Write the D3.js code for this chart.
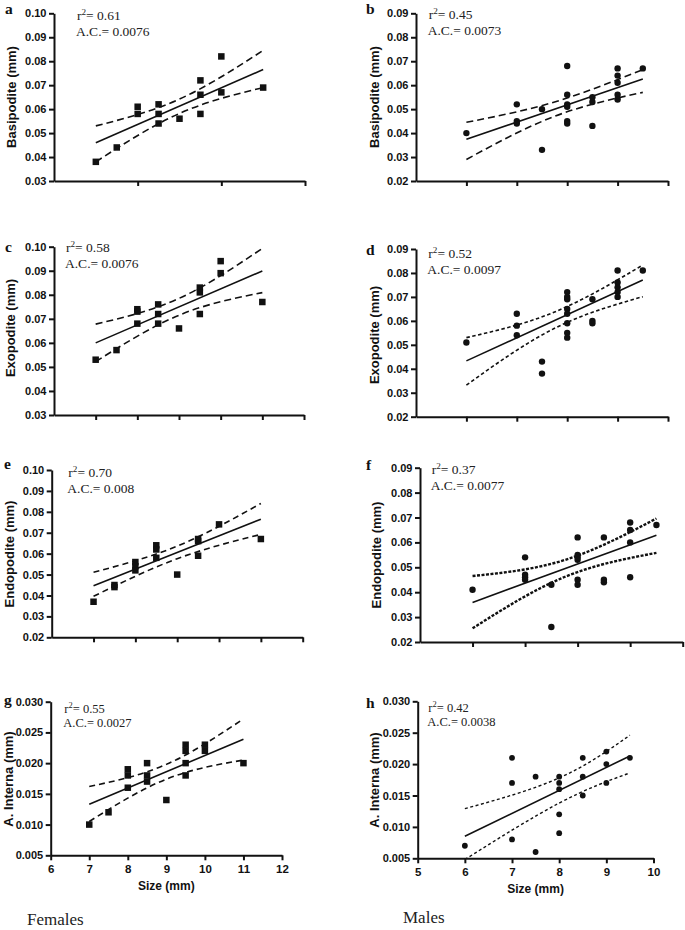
<!DOCTYPE html>
<html><head><meta charset="utf-8">
<script src="https://cdn.jsdelivr.net/npm/d3@7"></script>
<style>body{margin:0;background:#fff}svg{display:block}</style>
</head><body>
<svg id="chart" width="685" height="930"></svg>
<script>
// ---------- data (x = size mm, y = measurement mm) ----------
const basipoditeF = [[7,0.038],[7.5,0.044],[8,0.058],[8,0.061],[8.5,0.062],[8.5,0.058],[8.5,0.054],[9,0.056],[9.5,0.072],[9.5,0.066],[9.5,0.058],[10,0.082],[10,0.067],[11,0.069]];
const basipoditeM = [[6,0.040],[7,0.052],[7,0.045],[7,0.044],[7.5,0.050],[7.5,0.033],[8,0.068],[8,0.056],[8,0.052],[8,0.051],[8,0.045],[8,0.044],[8.5,0.055],[8.5,0.053],[8.5,0.043],[9,0.067],[9,0.064],[9,0.061],[9,0.056],[9,0.054],[9.5,0.067]];
const exopoditeF = [[7,0.053],[7.5,0.057],[8,0.074],[8,0.073],[8,0.068],[8.5,0.076],[8.5,0.072],[8.5,0.068],[9,0.066],[9.5,0.083],[9.5,0.081],[9.5,0.072],[10,0.094],[10,0.089],[11,0.077]];
const exopoditeM = [[6,0.051],[7,0.063],[7,0.058],[7,0.054],[7.5,0.043],[7.5,0.038],[8,0.072],[8,0.070],[8,0.069],[8,0.065],[8,0.063],[8,0.059],[8,0.055],[8,0.053],[8.5,0.069],[8.5,0.060],[8.5,0.059],[9,0.081],[9,0.076],[9,0.074],[9,0.072],[9,0.070],[9.5,0.081]];
const endopoditeF = [[7,0.037],[7.5,0.045],[7.5,0.044],[8,0.056],[8,0.054],[8,0.052],[8.5,0.064],[8.5,0.062],[8.5,0.058],[9,0.050],[9.5,0.067],[9.5,0.066],[9.5,0.059],[10,0.074],[11,0.067]];
const endopoditeM = [[6,0.041],[7,0.054],[7,0.047],[7,0.046],[7,0.045],[7.5,0.043],[7.5,0.026],[8,0.062],[8,0.055],[8,0.054],[8,0.053],[8,0.045],[8,0.043],[8.5,0.062],[8.5,0.045],[8.5,0.044],[9,0.068],[9,0.065],[9,0.060],[9,0.046],[9.5,0.067]];
const antennaF = [[7,0.010],[7.5,0.012],[8,0.019],[8,0.018],[8,0.016],[8.5,0.020],[8.5,0.018],[8.5,0.017],[9,0.014],[9.5,0.023],[9.5,0.022],[9.5,0.020],[9.5,0.018],[10,0.023],[10,0.022],[11,0.020]];
const antennaM = [[6,0.007],[7,0.021],[7,0.017],[7,0.008],[7.5,0.018],[7.5,0.006],[8,0.018],[8,0.017],[8,0.016],[8,0.012],[8,0.009],[8.5,0.021],[8.5,0.018],[8.5,0.015],[9,0.022],[9,0.020],[9,0.017],[9.5,0.021]];

// regression lines [x, y] at ends
const fitA = [[7,0.046],[11,0.0765]];
const fitB = [[6,0.0374],[9.5,0.0626]];
const fitC = [[7,0.060],[11,0.0899]];
const fitD = [[6,0.0433],[9.5,0.0771]];
const fitE = [[7,0.0447],[11,0.0765]];
const fitF = [[6,0.0359],[9.5,0.0629]];
const fitG = [[7,0.0133],[11,0.0239]];
const fitH = [[6,0.0085],[9.5,0.0213]];

// 95% confidence bands [x, lower, upper]
const bandA = [[7,0.038,0.053],[9,0.0582,0.0642],[11,0.069,0.0845]];
const bandB = [[6,0.029,0.0445],[7.75,0.047,0.053],[9.5,0.057,0.0665]];
const bandC = [[7,0.0522,0.0678],[9,0.0715,0.0785],[11,0.0809,0.0993]];
const bandD = [[6,0.0332,0.053],[7.75,0.0569,0.0637],[9.5,0.0701,0.0833]];
const bandE = [[7,0.0396,0.0511],[9,0.0576,0.0636],[11,0.0692,0.084]];
const bandF = [[6,0.0255,0.0465],[7.75,0.0461,0.0529],[9.5,0.0558,0.0696]];
const bandG = [[7,0.0105,0.0162],[9,0.0174,0.0198],[11,0.0205,0.0272]];
const bandH = [[6,0.0048,0.0129],[8,0.0138,0.0178],[9.5,0.0186,0.0246]];

// ticks
const yTicks0310 = [0.03,0.04,0.05,0.06,0.07,0.08,0.09,0.10];
const yTicks0209 = [0.02,0.03,0.04,0.05,0.06,0.07,0.08,0.09];
const yTicks0210 = [0.02,0.03,0.04,0.05,0.06,0.07,0.08,0.09,0.10];
const yTicksSmall = [0.005,0.010,0.015,0.020,0.025,0.030];
const xTicksFemaleA = [8,10,12];
const xTicksFemale = [7,8,9,10,11,12];
const xTicksFemaleLab = [6,7,8,9,10,11,12];
const xTicksMale = [6,7,8,9,10];
const xTicksMaleLab = [5,6,7,8,9,10];

const stats = {a:['0.61','0.0076'],b:['0.45','0.0073'],c:['0.58','0.0076'],d:['0.52','0.0097'],
               e:['0.70','0.008'],f:['0.37','0.0077'],g:['0.55','0.0027'],h:['0.42','0.0038']};

// ---------- layout ----------
const panels = [
 {id:'a',pts:basipoditeF,fit:fitA,band:bandA,title:'Basipodite (mm)',x0:54,x1:305,yT:13.3,yB:181,xd:[6,12],yd:[0.03,0.10],xt:xTicksFemaleA,yt:yTicks0310,fmt:'.2f',sq:true,dash:'7,4',dw:1.6,tx:77,ty:19.5,lx:5,ly:13.5,ttx:15.5,tty:97},
 {id:'b',pts:basipoditeM,fit:fitB,band:bandB,title:'Basipodite (mm)',x0:416,x1:668,yT:13.3,yB:181,xd:[5,10],yd:[0.02,0.09],xt:xTicksMale,yt:yTicks0209,fmt:'.2f',sq:false,dash:'7,4',dw:1.6,tx:428.7,ty:18.7,lx:366,ly:13.8,ttx:379,tty:97},
 {id:'c',pts:exopoditeF,fit:fitC,band:bandC,title:'Exopodite (mm)',x0:54,x1:304,yT:246.7,yB:415,xd:[6,12],yd:[0.03,0.10],xt:xTicksFemale,yt:yTicks0310,fmt:'.2f',sq:true,dash:'7,4',dw:1.6,tx:66,ty:252.3,lx:5,ly:252,ttx:14.5,tty:328},
 {id:'d',pts:exopoditeM,fit:fitD,band:bandD,title:'Exopodite (mm)',x0:416,x1:668,yT:249,yB:416.7,xd:[5,10],yd:[0.02,0.09],xt:xTicksMale,yt:yTicks0209,fmt:'.2f',sq:false,dash:'3.5,2.5',dw:1.6,tx:428.3,ty:258.3,lx:366,ly:254.5,ttx:379,tty:335},
 {id:'e',pts:endopoditeF,fit:fitE,band:bandE,title:'Endopodite (mm)',x0:51.7,x1:302.7,yT:470,yB:637.3,xd:[6,12],yd:[0.02,0.10],xt:xTicksFemale,yt:yTicks0210,fmt:'.2f',sq:true,dash:'6,4',dw:1.6,tx:68.3,ty:476.7,lx:4,ly:468.5,ttx:14,tty:554},
 {id:'f',pts:endopoditeM,fit:fitF,band:bandF,title:'Endopodite (mm)',x0:420,x1:682.7,yT:467.7,yB:642,xd:[5,10],yd:[0.02,0.09],xt:xTicksMale,yt:yTicks0209,fmt:'.2f',sq:false,dash:'3,1.5',dw:2.4,tx:431.7,ty:474.3,lx:366,ly:469.5,ttx:380.5,tty:555},
 {id:'g',pts:antennaF,fit:fitG,band:bandG,title:'A. Interna (mm)',x0:50.7,x1:282,yT:701.7,yB:855.3,xd:[6,12],yd:[0.005,0.030],xt:xTicksFemale,yt:yTicksSmall,fmt:'.3f',sq:true,dash:'6,4',dw:1.6,tx:64.3,ty:712.7,lx:4,ly:705,ttx:13,tty:779,xlab:xTicksFemaleLab,small:true},
 {id:'h',pts:antennaM,fit:fitH,band:bandH,title:'A. Interna (mm)',x0:417.7,x1:653.5,yT:701.3,yB:858.3,xd:[5,10],yd:[0.005,0.030],xt:xTicksMale,yt:yTicksSmall,fmt:'.3f',sq:false,r:2.9,dash:'3,2.5',dw:1.4,tx:428.3,ty:711.7,lx:366,ly:707.5,ttx:378.5,tty:780,xlab:xTicksMaleLab,small:true}
];

const svg = d3.select('#chart');
const SANS = 'Liberation Sans, Arial, sans-serif';
const SERIF = 'Liberation Serif, Times New Roman, serif';

panels.forEach(p => {
  const x = d3.scaleLinear().domain(p.xd).range([p.x0, p.x1]);
  const y = d3.scaleLinear().domain(p.yd).range([p.yB, p.yT]);
  const g = svg.append('g');

  // clip
  const cid = 'clip-' + p.id;
  svg.append('clipPath').attr('id', cid).append('rect')
    .attr('x', p.x0).attr('y', p.yT - 10).attr('width', p.x1 - p.x0 + 10).attr('height', p.yB - p.yT + 10);

  // y axis
  const ya = d3.axisLeft(y).tickValues(p.yt).tickFormat(d3.format(p.fmt)).tickSize(5).tickSizeOuter(0).tickPadding(2.5);
  const yg = g.append('g').attr('transform', `translate(${p.x0},0)`).call(ya);
  yg.selectAll('path,line').attr('stroke', '#111').attr('stroke-width', 2);
  yg.selectAll('text').attr('font-family', SANS).attr('font-weight', 'bold').attr('font-size', 11).attr('fill', '#111');

  // x axis
  const xa = d3.axisBottom(x).tickValues(p.xlab || p.xt).tickSize(5).tickSizeOuter(0).tickPadding(4.8)
    .tickFormat(p.xlab ? d3.format('d') : () => '');
  const xg = g.append('g').attr('transform', `translate(0,${p.yB})`).call(xa);
  xg.selectAll('path,line').attr('stroke', '#111').attr('stroke-width', 2);
  xg.selectAll('text').attr('font-family', SANS).attr('font-weight', 'bold').attr('font-size', 11.5).attr('fill', '#111');

  if (p.xlab) {
    g.append('text').attr('x', (p.x0 + p.x1) / 2).attr('y', p.yB + 35)
      .attr('text-anchor', 'middle').attr('font-family', SANS).attr('font-weight', 'bold')
      .attr('font-size', 12).attr('fill', '#111').text('Size (mm)');
  }

  // axis title
  g.append('text').attr('transform', `translate(${p.ttx},${p.tty}) rotate(-90)`)
    .attr('text-anchor', 'middle').attr('font-family', SANS).attr('font-weight', 'bold')
    .attr('font-size', 13).attr('fill', '#111').text(p.title);

  // panel letter
  g.append('text').attr('x', p.lx).attr('y', p.ly).attr('font-family', SERIF).attr('font-weight', 'bold')
    .attr('font-size', 15.5).attr('fill', '#111').text(p.id);

  // stats text
  const fs = p.small ? 12.5 : 13.5;
  const t1 = g.append('text').attr('x', p.tx).attr('y', p.ty).attr('font-family', SERIF)
    .attr('font-size', fs).attr('fill', '#222');
  t1.append('tspan').text('r');
  t1.append('tspan').attr('dy', -5).attr('font-size', fs * 0.68).text('2');
  t1.append('tspan').attr('dy', 5).text('= ' + stats[p.id][0]);
  g.append('text').attr('x', p.tx - 1).attr('y', p.ty + (p.small ? 14.6 : 16))
    .attr('font-family', SERIF).attr('font-size', fs).attr('fill', '#222')
    .text('A.C.= ' + stats[p.id][1]);

  // bands
  const plot = g.append('g').attr('clip-path', `url(#${cid})`);
  const lo = d3.line().x(d => x(d[0])).y(d => y(d[1])).curve(d3.curveNatural);
  const hi = d3.line().x(d => x(d[0])).y(d => y(d[2])).curve(d3.curveNatural);
  [lo, hi].forEach(gen => {
    plot.append('path').datum(p.band).attr('d', gen).attr('fill', 'none')
      .attr('stroke', '#111').attr('stroke-width', p.dw).attr('stroke-dasharray', p.dash);
  });
  // fit
  plot.append('path').datum(p.fit).attr('d', d3.line().x(d => x(d[0])).y(d => y(d[1])))
    .attr('fill', 'none').attr('stroke', '#111').attr('stroke-width', 1.6);

  // points
  if (p.sq) {
    const s = 6.5;
    g.selectAll('rect.pt').data(p.pts).join('rect').attr('class', 'pt')
      .attr('x', d => x(d[0]) - s / 2).attr('y', d => y(d[1]) - s / 2)
      .attr('width', s).attr('height', s).attr('fill', '#111');
  } else {
    g.selectAll('circle.pt').data(p.pts).join('circle').attr('class', 'pt')
      .attr('cx', d => x(d[0])).attr('cy', d => y(d[1])).attr('r', p.r || 3.2).attr('fill', '#111');
  }
});

// group labels
svg.append('text').attr('x', 27).attr('y', 925).attr('font-family', SERIF).attr('font-size', 17)
  .attr('fill', '#222').text('Females');
svg.append('text').attr('x', 403).attr('y', 923).attr('font-family', SERIF).attr('font-size', 17)
  .attr('fill', '#222').text('Males');
</script>
</body></html>
